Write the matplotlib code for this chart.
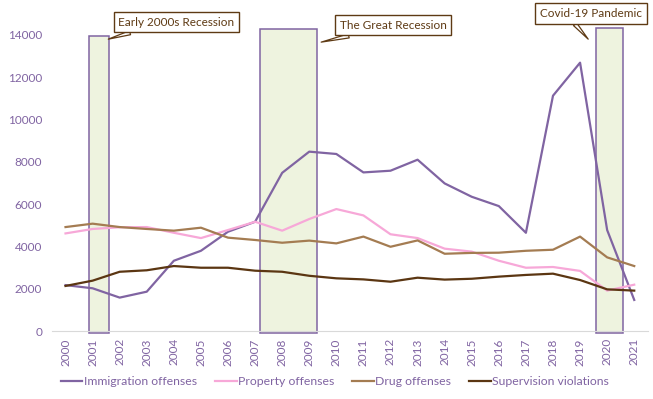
import matplotlib
matplotlib.use("Agg")
import matplotlib.pyplot as plt
from matplotlib.patches import Rectangle

plt.rcParams["font.family"] = ["Lato", "DejaVu Sans"]

years = list(range(2000, 2022))
immigration = [2180, 2030, 1590, 1870, 3330, 3800, 4700, 5170, 7480, 8480, 8370,
               7500, 7580, 8100, 6980, 6350, 5910, 4650, 11120, 12680, 4780, 1480]
property_off = [4620, 4830, 4910, 4920, 4650, 4400, 4780, 5170, 4750, 5300, 5770,
                5470, 4580, 4400, 3900, 3760, 3330, 3000, 3035, 2850, 1920, 2200]
drug = [4920, 5080, 4920, 4830, 4750, 4890, 4420, 4310, 4180, 4280, 4150,
        4470, 3990, 4290, 3660, 3700, 3710, 3800, 3850, 4470, 3490, 3080]
supervision = [2140, 2390, 2810, 2880, 3080, 3000, 3000, 2860, 2810, 2620, 2500,
               2450, 2340, 2530, 2440, 2480, 2580, 2660, 2720, 2420, 1980, 1920]

# recession shading: start, end, top
rec_start = [2000.85, 2007.17, 2019.57]
rec_end = [2001.6, 2009.27, 2020.6]
rec_top = [13950, 14270, 14300]
rec_labels = ["Early 2000s Recession", "The Great Recession", "Covid-19 Pandemic"]
label_xy = [(2004.1, 14600), (2012.1, 14450), (2019.4, 15000)]
point_xy = [(2001.58, 13790), (2009.44, 13650), (2019.3, 13790)]
tail_rel = [(0.25, 0.0), (0.3, 0.0), (0.3, 0.0)]

PURPLE = "#8064A2"
PINK = "#F7A8D8"
TAN = "#A47C52"
DARK = "#5B3612"
BROWN_TXT = "#5E3A14"
SHADE = "#EEF3DF"

fig = plt.figure(figsize=(6.53, 3.99), dpi=100)
ax = fig.add_axes([0.0796, 0.1697, 0.9124, 0.7433])

for s, e, t in zip(rec_start, rec_end, rec_top):
    ax.add_patch(Rectangle((s, -60), e - s, t + 60, facecolor=SHADE,
                           edgecolor=PURPLE, linewidth=1.1, zorder=1, clip_on=False))

ax.plot(years, immigration, color=PURPLE, lw=1.6, label="Immigration offenses", zorder=3)
ax.plot(years, property_off, color=PINK, lw=1.6, label="Property offenses", zorder=3)
ax.plot(years, drug, color=TAN, lw=1.6, label="Drug offenses", zorder=3)
ax.plot(years, supervision, color=DARK, lw=1.6, label="Supervision violations", zorder=3)

for lab, txy, pxy, rel in zip(rec_labels, label_xy, point_xy, tail_rel):
    ax.annotate(lab, xy=pxy, xytext=txy, ha="center", va="center",
                fontsize=8.5, color=BROWN_TXT, annotation_clip=False, zorder=5,
                bbox=dict(boxstyle="square,pad=0.4", fc="white", ec=BROWN_TXT, lw=1),
                arrowprops=dict(arrowstyle="wedge,tail_width=0.35,shrink_factor=0.5",
                                fc="white", ec=BROWN_TXT, lw=0.9, relpos=rel,
                                shrinkA=0, shrinkB=0))

ax.set_xlim(1999.5, 2021.5)
ax.set_ylim(0, 14000)
ax.set_xticks(years)
ax.set_xticklabels([str(y) for y in years], rotation=90)
ax.set_yticks(range(0, 14001, 2000))
ax.tick_params(axis="both", length=0, labelsize=8.5, colors=PURPLE)
ax.tick_params(axis="x", pad=5)
ax.tick_params(axis="y", pad=7)
for side in ["top", "right", "left"]:
    ax.spines[side].set_visible(False)
ax.spines["bottom"].set_color("#D9D9D9")

fig.legend(loc="center", bbox_to_anchor=(0.513, 0.043), ncol=4, frameon=False,
           fontsize=8.8, labelcolor=PURPLE, handlelength=1.75, handletextpad=0.1,
           columnspacing=1.5)

fig.savefig("out.png", dpi=100)
